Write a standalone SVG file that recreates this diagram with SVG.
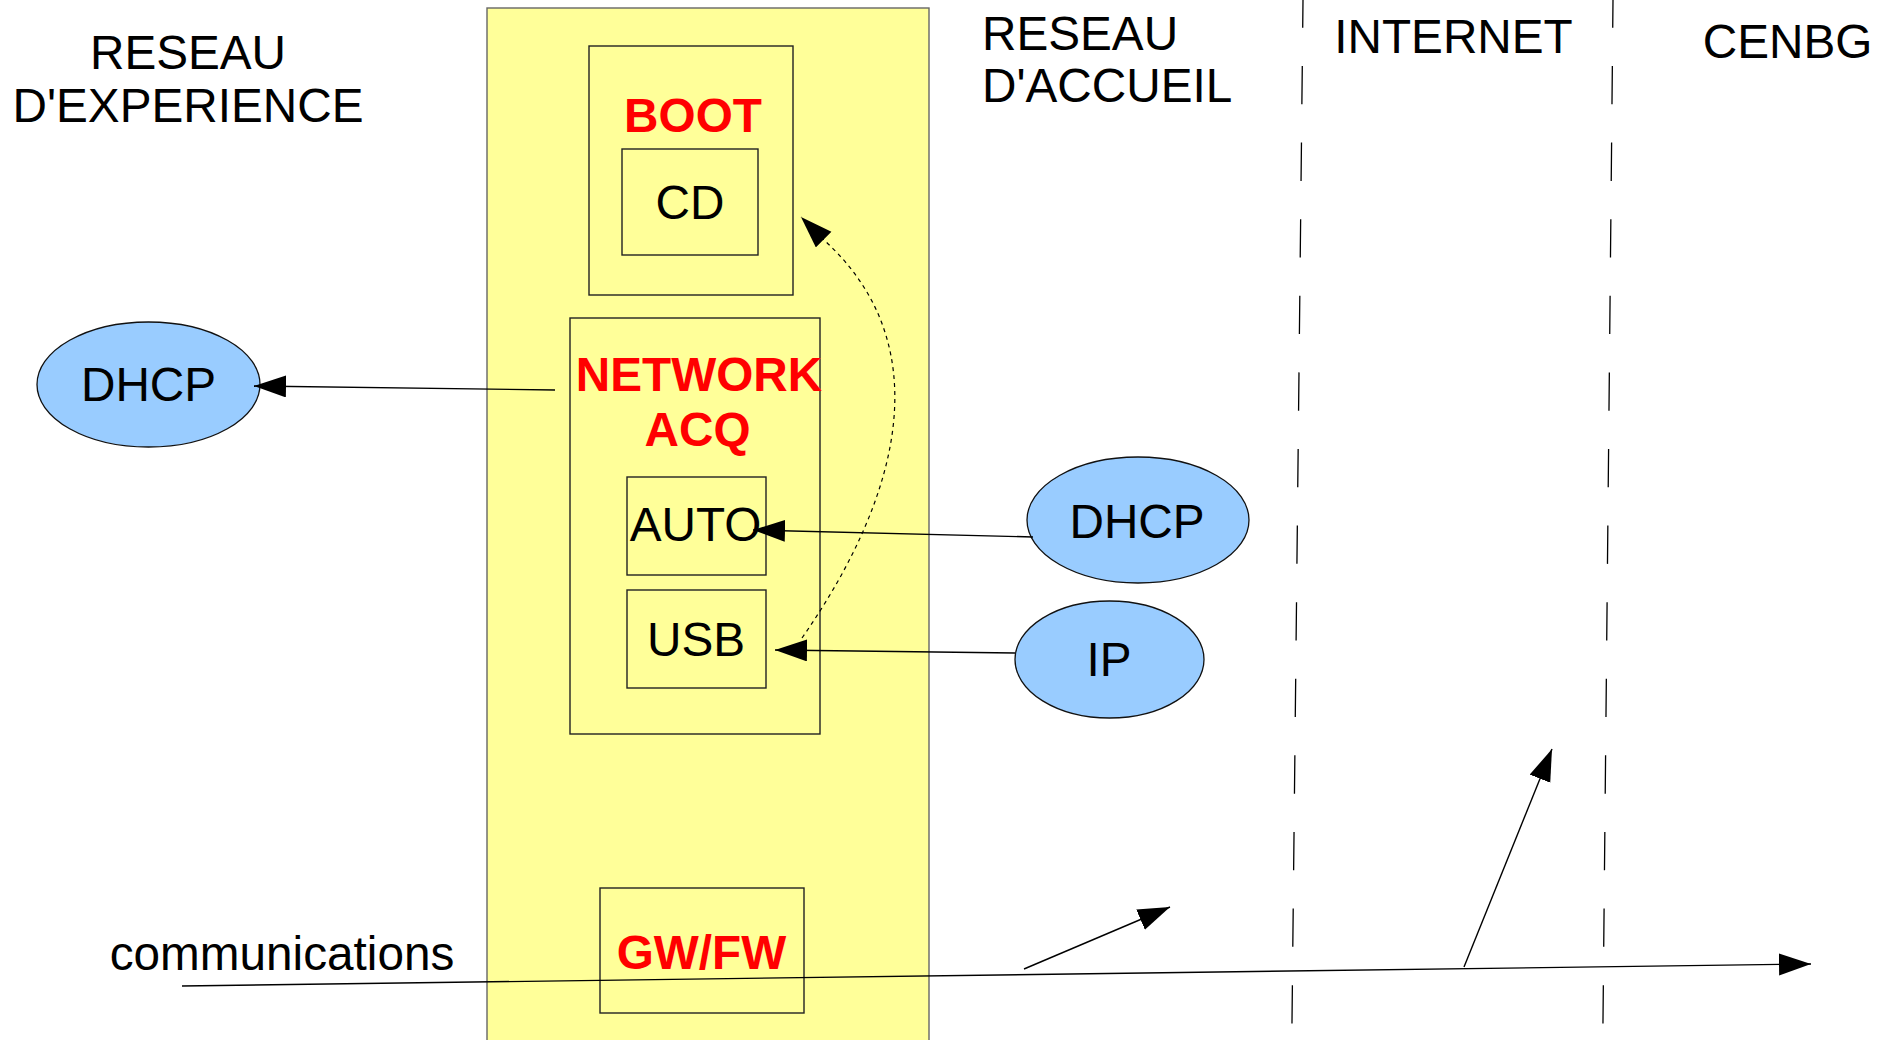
<svg xmlns="http://www.w3.org/2000/svg" width="1893" height="1040" viewBox="0 0 1893 1040">
<defs>
<style>
text{font-family:"Liberation Sans",Arial,sans-serif;font-size:47.7px;fill:#000}
.ttl{text-anchor:middle}
.red{fill:#ff0000;font-weight:bold;text-anchor:middle}
.lbl{text-anchor:middle}
.box{fill:#ffff99;stroke:#222;stroke-width:1.4}
.ell{fill:#99ccff;stroke:#111;stroke-width:1.3}
.con{fill:none;stroke:#000;stroke-width:1.4}
.dot{fill:none;stroke:#000;stroke-width:1.2;stroke-dasharray:4 4}
.sep{fill:none;stroke:#000;stroke-width:1.3;stroke-dasharray:38.3 38.3;stroke-dashoffset:10.6}
</style>
<marker id="arr" markerUnits="userSpaceOnUse" markerWidth="34" markerHeight="24" refX="32" refY="11" orient="auto" viewBox="0 0 34 24">
<path d="M0,0 L32,11 L0,22 Z" fill="#000"/>
</marker>
</defs>
<rect width="1893" height="1040" fill="#fff"/>

<g id="labels">
<text class="ttl" x="188" y="69">RESEAU</text>
<text class="ttl" x="188" y="122">D'EXPERIENCE</text>
<text x="982" y="50">RESEAU</text>
<text x="982" y="102">D'ACCUEIL</text>
<text class="ttl" x="1453.5" y="53">INTERNET</text>
<text class="ttl" x="1787.5" y="58">CENBG</text>
<text class="ttl" x="282" y="970">communications</text>
</g>

<g id="separators">
<line class="sep" x1="1303" y1="0" x2="1291.8" y2="1040"/>
<line class="sep" x1="1613" y1="0" x2="1602.8" y2="1040"/>
</g>

<g id="host">
<rect x="487" y="8" width="442" height="1040" fill="#ffff99" stroke="#666" stroke-width="1.4"/>
</g>

<g id="boot">
<rect class="box" x="589" y="46" width="204" height="249"/>
<text class="red" x="693" y="132">BOOT</text>
</g>
<g id="cd">
<rect class="box" x="622" y="149" width="136" height="106"/>
<text class="lbl" x="690" y="219">CD</text>
</g>
<g id="network-acq">
<rect class="box" x="570" y="318" width="250" height="416"/>
<text class="red" x="699" y="391">NETWORK</text>
<text class="red" x="697.5" y="446">ACQ</text>
</g>
<g id="auto">
<rect class="box" x="627" y="477" width="139" height="98"/>
<text class="lbl" x="695.5" y="541">AUTO</text>
</g>
<g id="usb">
<rect class="box" x="627" y="590" width="139" height="98"/>
<text class="lbl" x="696" y="656">USB</text>
</g>
<g id="gwfw">
<rect class="box" x="600" y="888" width="204" height="125"/>
<text class="red" x="701.5" y="969">GW/FW</text>
</g>

<g id="dhcp-left">
<ellipse class="ell" cx="148.5" cy="384.5" rx="111.5" ry="62.5"/>
<text class="lbl" x="148.5" y="401">DHCP</text>
</g>
<g id="dhcp-right">
<ellipse class="ell" cx="1138" cy="520" rx="111" ry="63"/>
<text class="lbl" x="1137" y="538">DHCP</text>
</g>
<g id="ip">
<ellipse class="ell" cx="1109.5" cy="659.5" rx="94.5" ry="58.5"/>
<text class="lbl" x="1109" y="676">IP</text>
</g>

<g id="connectors">
<line class="con" x1="555" y1="390" x2="254" y2="386" marker-end="url(#arr)"/>
<line class="con" x1="1033" y1="537" x2="753" y2="530" marker-end="url(#arr)"/>
<line class="con" x1="1015" y1="653" x2="775" y2="650" marker-end="url(#arr)"/>
<path class="dot" d="M802,638 C905,490 936,342 824,240 L801,217" marker-end="url(#arr)"/>
<line class="con" x1="182" y1="986" x2="1811" y2="964" marker-end="url(#arr)"/>
<line class="con" x1="1024" y1="969" x2="1170" y2="907" marker-end="url(#arr)"/>
<line class="con" x1="1464" y1="967" x2="1552" y2="749" marker-end="url(#arr)"/>
</g>
</svg>
